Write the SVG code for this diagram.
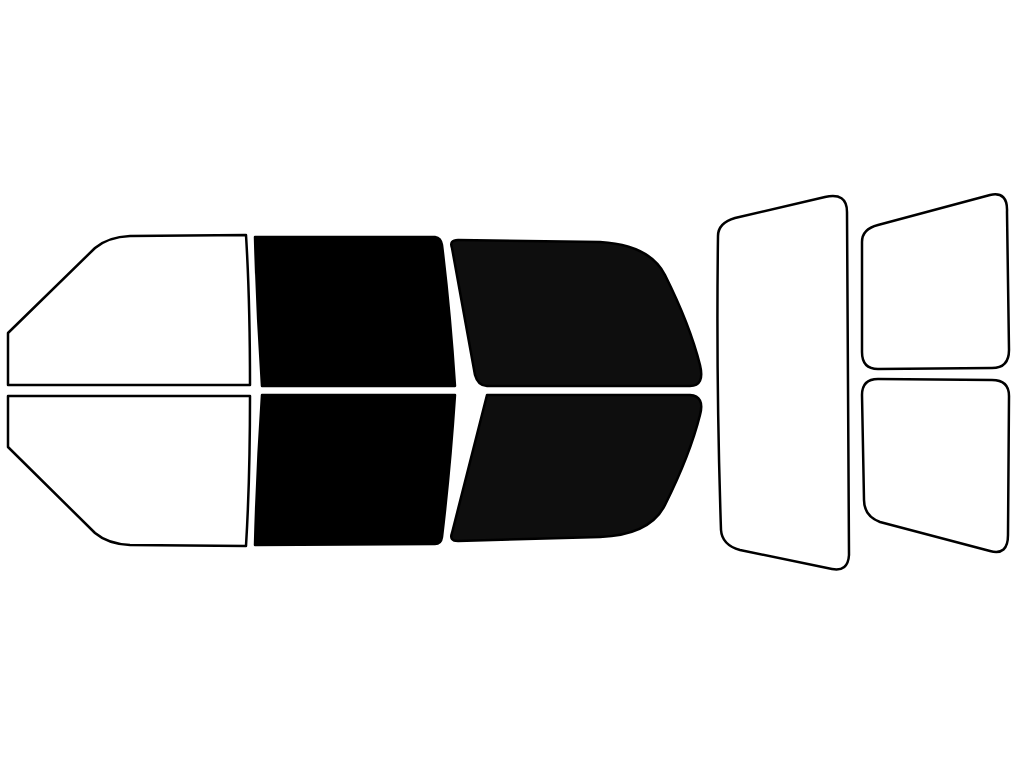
<svg xmlns="http://www.w3.org/2000/svg" width="1024" height="768" viewBox="0 0 1024 768">
<style>path{stroke:#000;stroke-width:2.5;stroke-linejoin:round}.w{fill:#fff}.b{fill:#000}.g{fill:#0e0e0e}</style>
<rect width="1024" height="768" fill="#fff"/>
<g id="front-top"><path class="w" d="M8,333 L95,248 Q108,237 130,236 L246,235 Q250,300 250,385 L8,385 Z"/></g>
<g id="front-bottom"><path class="w" d="M8,396 L250,396 Q250,480 246,546 L130,545 Q108,544 95,533 L8,447 Z"/></g>
<g id="mid-top"><path class="b" d="M255,237 L435,237 Q441,238 442,245 Q450,310 455,386 L262,386 Q257,310 255,237 Z"/></g>
<g id="mid-bottom"><path class="b" d="M262,395 L455,395 Q450,470 442,537 Q441,544 435,544 L255,545 Q257,470 262,395 Z"/></g>
<g id="rear-door-top"><path class="g" d="M452,248 Q449,240 458,240 L600,242 Q650,245 665,275 Q690,325 700,365 Q705,386 690,386 L487,386 Q478,386 475,375 Z"/></g>
<g id="rear-door-bottom"><path class="g" d="M487,395 L690,395 Q705,396 700,415 Q690,455 665,505 Q650,535 600,537 L458,541 Q449,541 452,533 Z"/></g>
<g id="rear-window"><path class="w" d="M718,236 Q718,223 735,218 L825,197 Q847,192 847,212 L849,555 Q848,572 832,569 L740,550 Q722,545 721,530 Q716,380 718,236 Z"/></g>
<g id="right-top"><path class="w" d="M862,242 Q862,229 878,225 L990,195 Q1008,191 1007,212 L1009,350 Q1009,368 992,368 L878,369 Q862,369 862,352 Z"/></g>
<g id="right-bottom"><path class="w" d="M862,395 Q862,379 878,379 L992,380 Q1009,380 1009,396 L1008,535 Q1008,556 990,551 L880,522 Q864,516 864,500 Z"/></g>
</svg>
